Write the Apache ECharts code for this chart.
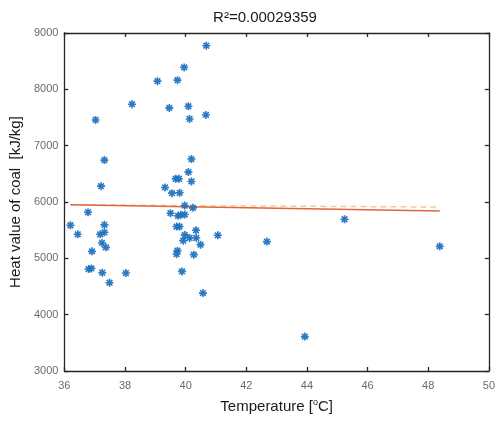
<!DOCTYPE html>
<html>
<head>
<meta charset="utf-8">
<script src="https://cdn.jsdelivr.net/npm/echarts@6/dist/echarts.min.js"></script>
<style>html,body{margin:0;padding:0;background:#fff;}#c{width:498px;height:423px;}</style>
</head>
<body>
<div id="c"></div>
<script>
var temperature = [40.68,39.95,39.07,39.73,38.23,39.46,40.09,40.67,40.13,37.03,
  37.32,40.19,40.09,39.67,39.78,40.19,37.21,39.32,39.55,39.80,
  36.78,39.97,40.24,36.20,36.44,37.32,37.18,37.32,37.24,37.37,
  36.91,36.80,36.89,37.25,37.49,38.03,39.50,39.75,39.84,39.97,
  39.70,39.80,40.34,39.97,40.13,40.35,39.92,40.49,41.06,39.73,
  39.70,40.27,39.88,40.57,42.68,45.24,43.93,48.38];
var heatValue = [8774,8389,8145,8163,7736,7670,7700,7545,7474,7456,
  6744,6762,6531,6413,6413,6365,6281,6258,6157,6163,
  5818,5937,5896,5587,5427,5594,5427,5462,5273,5195,
  5124,4810,4821,4745,4567,4739,5801,5754,5772,5777,
  5564,5564,5498,5416,5362,5362,5314,5243,5409,5136,
  5077,5065,4768,4383,5297,5694,3611,5213];
var fitX = [36.2, 48.38];
var fitY = [5950, 5840];
var refY = [5950, 5910];
var xTicks = [36,38,40,42,44,46,48,50];
var yTicks = [3000,4000,5000,6000,7000,8000,9000];

var pts = temperature.map(function(t,i){return [t, heatValue[i]];});
var fitLine = fitX.map(function(x,i){return [x, fitY[i]];});
var refLine = fitX.map(function(x,i){return [x, refY[i]];});

var star = 'path://M-1.2,-6 L1.2,-6 L1.2,6 L-1.2,6 Z M-6,-1.2 L6,-1.2 L6,1.2 L-6,1.2 Z M-3.39,-5.09 L5.09,3.39 L3.39,5.09 L-5.09,-3.39 Z M5.09,-3.39 L-3.39,5.09 L-5.09,3.39 L3.39,-5.09 Z';

var axisLine = {show:true, lineStyle:{color:'#262626', width:1.3}};
var tick = {show:true, inside:true, length:4, lineStyle:{color:'#262626', width:1.3}};
var font = 'Liberation Sans, Arial, sans-serif';
function lbl(margin){ return {color:'#6b6b6b', fontSize:11, fontFamily:font, margin:margin,
  formatter:function(v){return String(v);}}; }

var chart = echarts.init(document.getElementById('c'), null, {renderer:'canvas'});
chart.setOption({
  animation:false,
  backgroundColor:'#fff',
  title:{text:'R\u00b2=0.00029359', left:260, top:5, textAlign:'center',
    textStyle:{fontSize:15, fontWeight:'normal', color:'#1a1a1a', fontFamily:font}},
  grid:{left:64, right:6, top:33, bottom:52, containLabel:false},
  xAxis:[{
    type:'value', min:xTicks[0], max:xTicks[xTicks.length-1], interval:2, position:'bottom',
    axisLine:axisLine, axisTick:tick, splitLine:{show:false},
    axisLabel:lbl(9),
    name:'Temperature [{s|o}C]', nameLocation:'middle', nameGap:27,
    nameTextStyle:{fontSize:15, color:'#1a1a1a', fontFamily:font,
      rich:{s:{fontSize:9, verticalAlign:'top', padding:[0,0,8,0], color:'#1a1a1a', fontFamily:font}}}
  },{
    type:'value', min:xTicks[0], max:xTicks[xTicks.length-1], interval:2, position:'top',
    axisLine:axisLine, axisTick:tick, axisLabel:{show:false}, splitLine:{show:false}
  }],
  yAxis:[{
    type:'value', min:yTicks[0], max:yTicks[yTicks.length-1], interval:1000, position:'left',
    axisLine:axisLine, axisTick:tick, splitLine:{show:false},
    axisLabel:lbl(6),
    name:'Heat value of coal  [kJ/kg]', nameLocation:'middle', nameGap:38,
    nameTextStyle:{fontSize:15, color:'#1a1a1a', fontFamily:font}
  },{
    type:'value', min:yTicks[0], max:yTicks[yTicks.length-1], interval:1000, position:'right',
    axisLine:axisLine, axisTick:tick, axisLabel:{show:false}, splitLine:{show:false}
  }],
  series:[{
    type:'line', data:refLine, showSymbol:false, symbol:'none',
    lineStyle:{color:'#F6CB94', width:1.5, type:[6,4]}, z:2
  },{
    type:'line', data:fitLine, showSymbol:false, symbol:'none',
    lineStyle:{color:'#E2643A', width:1.5}, z:3
  },{
    type:'scatter', data:pts, symbol:star, symbolSize:8,
    itemStyle:{color:'#1f72c0', opacity:0.95}, z:4
  }]
});
</script>
</body>
</html>
